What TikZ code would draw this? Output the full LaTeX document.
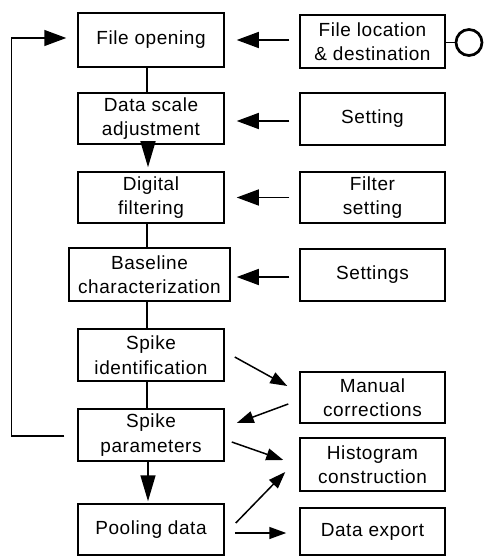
\documentclass[tikz,border=0pt]{standalone}
\usepackage{fontspec}
\setmainfont{Liberation Sans}[LetterSpace=3]
\usetikzlibrary{arrows.meta,calc}
\tikzset{
  box/.style={draw, line width=1.5pt, rectangle, inner sep=0pt, align=center,
    font=\fontsize{19}{24.5}\selectfont, minimum width=146pt},
  conn/.style={line width=1.5pt},
  harr/.style={conn, -{Triangle[length=22pt,width=16pt]}},
  varr/.style={conn, -{Triangle[length=26pt,width=15pt]}},
  darr/.style={conn, -{Triangle[length=17pt,width=12pt]}},
}
\begin{document}
\begin{tikzpicture}[x=1pt,y=-1pt]
\useasboundingbox (0,0) rectangle (484,556);
% left column
\node[box, minimum height=54pt] (fo) at (151,40) {File opening};
\node[box, minimum height=51pt] (ds) at (151,118.5) {Data scale\\adjustment};
\node[box, minimum height=51pt] (df) at (151,197.5) {Digital\\filtering};
\node[box, minimum height=53pt, minimum width=161pt] (bc) at (149.5,274.5) {Baseline\\characterization};
\node[box, minimum height=52pt] (si) at (151,355) {Spike\\identification};
\node[box, minimum height=52pt] (sp) at (151,435) {Spike\\parameters};
\node[box, minimum height=51pt] (pd) at (151,529.5) {Pooling data};
% right column
\node[box, minimum height=53pt, minimum width=145pt] (fl) at (372.5,41.5) {File location\\\& destination};
\node[box, minimum height=52pt, minimum width=145pt] (st) at (372.5,119) {Setting};
\node[box, minimum height=51pt, minimum width=145pt] (fs) at (372.5,197.5) {Filter\\setting};
\node[box, minimum height=52pt, minimum width=145pt] (ss) at (372.5,275) {Settings};
\node[box, minimum height=51pt, minimum width=145pt] (mc) at (372.5,397.5) {Manual\\corrections};
\node[box, minimum height=53pt, minimum width=145pt] (hc) at (372.5,464.5) {Histogram\\construction};
\node[box, minimum height=47pt, minimum width=145pt] (de) at (372.5,531.5) {Data export};
% circle
\node[draw, circle, line width=2.7pt, minimum size=26pt, inner sep=0pt] (cc) at (469,42.5) {};
\draw[conn] (fl.east |- cc.west) -- (cc.west);
% vertical links
\draw[conn] ([xshift=-4pt]fo.south) -- ([xshift=-4pt]ds.north);
\draw[varr] ([xshift=-3pt]ds.south) -- ([xshift=-3pt,yshift=4pt]df.north);
\draw[conn] ([xshift=-4pt]df.south) -- ([xshift=-2.5pt]bc.north);
\draw[conn] ([xshift=-2.5pt]bc.south) -- ([xshift=-4pt]si.north);
\draw[conn] ([xshift=-4pt]si.south) -- ([xshift=-4pt]sp.north);
\draw[varr] ([xshift=-3pt]sp.south) -- ([xshift=-3pt,yshift=2pt]pd.north);
% horizontal arrows from settings
\draw[harr] ($(fl.west |- fo.east)+(-10,0)$) -- ($(fo.east)+(12,0)$);
\draw[harr] ($(st.west)+(-10,2)$) -- ($(ds.east)+(12,2.5)$);
\draw[harr] ($(fs.west)+(-10,0)$) -- ($(df.east)+(12,0)$);
\draw[harr] ($(ss.west)+(-10,2)$) -- ($(bc.east)+(6,2.5)$);
% diagonal arrows
\draw[darr] ($(si.east)+(10,2)$) -- ($(mc.west)+(-12,-11.5)$);
\draw[darr] ($(mc.west)+(-11,6.5)$) -- ($(sp.east)+(12,-12)$);
\draw[darr] ($(sp.east)+(7,7)$) -- ($(hc.west)+(-16,-4.5)$);
\draw[darr] ($(pd.east)+(11,-6.5)$) -- ($(hc.west)+(-14,7.5)$);
\draw[darr] ($(pd.east)+(10,3.5)$) -- ($(de.west |- pd.east)+(-13,3.5)$);
% feedback loop
\draw[harr] ($(sp.west)+(-13,1)$) -- ++(-53,0) |- ($(fo.west)+(-11,-2)$);
\end{tikzpicture}
\end{document}
